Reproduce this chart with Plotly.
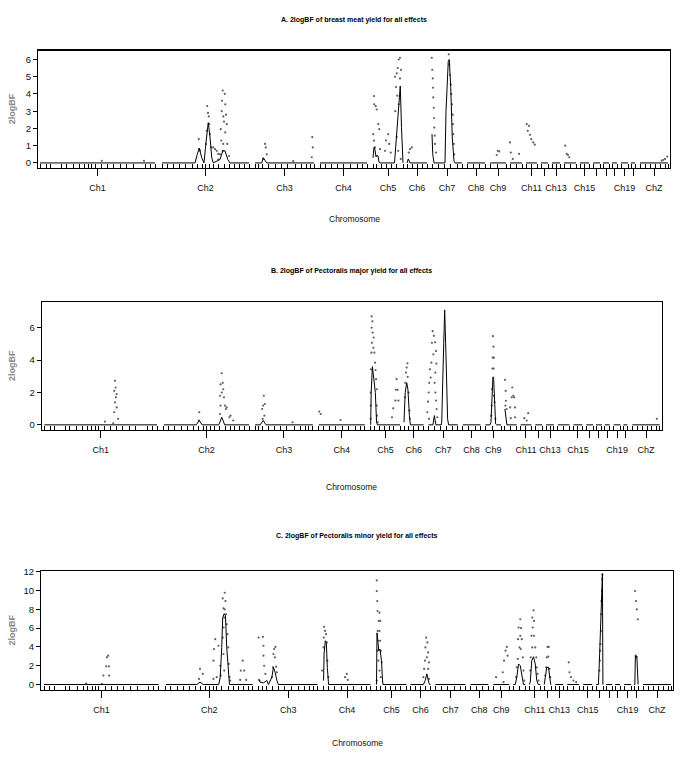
"""
Genome-wide 2logBF profiles (three traits) drawn as stacked panels.
"""

import plotly.graph_objects as go

# chromosome map (cumulative cM along the genome)
CHR_NAMES = ["Ch1", "Ch2", "Ch3", "Ch4", "Ch5", "Ch6", "Ch7", "Ch8", "Ch9", "Ch10", "Ch11",
             "Ch12", "Ch13", "Ch14", "Ch15", "Ch16", "Ch17", "Ch18", "Ch19", "Ch20", "ChZ"]
CHR_LABELED = ["Ch1", "Ch2", "Ch3", "Ch4", "Ch5", "Ch6", "Ch7", "Ch8", "Ch9",
               "Ch11", "Ch13", "Ch15", "Ch19", "ChZ"]
CHR_START = [0, 488, 860, 1120, 1332, 1468, 1568, 1708, 1800, 1880, 1944,
             2004, 2048, 2096, 2160, 2212, 2252, 2288, 2324, 2364, 2400]
CHR_END = [460, 836, 1096, 1308, 1452, 1548, 1688, 1780, 1864, 1928, 1988,
           2032, 2080, 2144, 2196, 2240, 2276, 2308, 2352, 2380, 2512]

# marker positions (rug under the curves)
MARKERS = [0, 24, 43, 87, 104, 133, 157, 176, 193, 207, 220, 247, 269, 293, 320, 347, 373, 420, 440, 460,
           488, 508, 533, 558, 583, 608, 628, 648, 663, 678, 693, 713, 738, 758, 778, 798, 818, 836,
           860, 875, 890, 915, 940, 965, 990, 1020, 1045, 1065, 1080, 1096,
           1120, 1140, 1165, 1190, 1215, 1240, 1270, 1290, 1308,
           1332, 1347, 1367, 1387, 1407, 1427, 1452,
           1468, 1488, 1508, 1528, 1548,
           1568, 1593, 1618, 1643, 1668, 1688,
           1708, 1733, 1758, 1780, 1800, 1830, 1864, 1880, 1904, 1928, 1944, 1966, 1988,
           2004, 2032, 2048, 2064, 2080, 2096, 2120, 2144, 2160, 2178, 2196, 2212, 2240,
           2252, 2276, 2288, 2308, 2324, 2352, 2364, 2380,
           2400, 2420, 2440, 2460, 2480, 2500, 2512]

# ---- A. breast meat yield ----
A_CURVE_X = [620, 629, 637, 647, 656, 664, 673, 680, 687, 693, 720, 731, 740, 751, 760,
             887, 893, 901, 907,
             1332, 1336, 1340, 1344, 1348, 1352, 1356, 1360, 1418, 1424, 1433, 1441, 1446, 1450,
             1468, 1473, 1480,
             1568, 1571, 1576, 1620, 1624, 1633, 1637, 1643, 1649, 1656, 1660]
A_CURVE_Y = [0, 0.5, 0.86, 0.3, 0, 1.2, 2.34, 1.5, 0.3, 0, 0.2, 0.7, 0.7, 0.2, 0,
             0, 0.3, 0.1, 0,
             0.3, 0.9, 0.75, 0.35, 0.45, 0.4, 0.05, 0, 0, 1.1, 3.0, 4.46, 2.05, 0.23,
             0, 0.23, 0,
             1.67, 0.5, 0, 0, 3.0, 5.9, 6.0, 4.36, 1.5, 0.1, 0]
A_DOT_X = [247, 416,
           635, 637, 640, 669, 672, 675, 677, 667, 664, 680, 685, 693, 700, 707, 713,
           731, 739, 728, 741, 727, 733, 744, 723, 736, 747, 725, 741, 749, 733, 731, 720, 756, 713,
           900, 903, 907, 893, 1013, 1089, 1091, 1087,
           1336, 1337, 1343, 1347, 1353, 1333, 1336, 1340, 1357, 1360, 1393, 1397, 1384, 1380, 1403,
           1420, 1427, 1431, 1435, 1440, 1444, 1440, 1424, 1429, 1421, 1435, 1427, 1433, 1443,
           1480, 1487, 1475,
           1567, 1569, 1571, 1572, 1573, 1575, 1576, 1577, 1579, 1580, 1584,
           1635, 1637, 1640, 1643, 1645, 1648, 1651, 1652, 1653, 1655, 1657,
           1827, 1831, 1837, 1880, 1883, 1891, 1916,
           1947, 1956, 1951, 1960, 1965, 1973, 1979,
           2101, 2107, 2112, 2117,
           2487, 2493, 2500, 2509]
A_DOT_Y = [0.12, 0.12,
           1.38, 0.8, 0.7, 3.3, 2.9, 2.7, 2.25, 1.86, 1.1, 1.67, 0.9, 0.9, 0.8, 0.7, 0.52,
           4.2, 4.0, 3.6, 3.4, 3.0, 2.7, 2.8, 1.96, 2.4, 2.25, 1.3, 1.77, 1.1, 1.1, 0.7, 0.5, 0.4, 0.2,
           1.1, 0.9, 0.5, 0.23, 0.1, 1.5, 0.9, 0.33,
           3.88, 3.4, 3.3, 3.1, 2.25, 1.67, 1.29, 0.9, 1.96, 0.8, 1.67, 1.1, 1.3, 0.7, 0.6,
           5.0, 5.2, 5.5, 6.0, 6.1, 5.4, 4.9, 4.4, 3.9, 3.0, 3.4, 1.5, 0.7, 0.23,
           0.8, 0.9, 0.6,
           6.1, 5.4, 4.9, 4.36, 3.8, 3.2, 2.6, 2.05, 1.58, 1.1, 0.6,
           6.3, 5.7, 5.1, 4.55, 4.0, 3.4, 2.8, 2.25, 1.67, 1.1, 0.5,
           0.46, 0.7, 0.67, 1.19, 0.6, 0.23, 0.52,
           2.25, 2.15, 1.86, 1.63, 1.38, 1.19, 1.06,
           1.0, 0.52, 0.46, 0.33,
           0.13, 0.17, 0.23, 0.37]

# ---- B. Pectoralis major yield ----
B_CURVE_X = [620, 632, 644, 712, 724, 736,
             881, 893, 905,
             1332, 1334, 1339, 1345, 1351, 1356, 1360,
             1468, 1473, 1479, 1484, 1490, 1494,
             1586, 1592, 1598, 1620, 1622, 1626, 1630, 1634, 1638, 1642, 1646, 1650,
             1819, 1823, 1827, 1831, 1834, 1838, 1842, 1846,
             1880, 1884, 1888]
B_CURVE_Y = [0, 0.27, 0, 0, 0.47, 0,
             0, 0.27, 0,
             0, 2.0, 3.6, 2.82, 2.0, 0.16, 0,
             0.16, 2.0, 2.6, 2.2, 0.57, 0,
             0, 0.57, 0, 0, 0.16, 2.6, 5.07, 7.1, 5.07, 2.6, 0.37, 0,
             0, 0.16, 1.39, 2.92, 2.82, 0.98, 0.06, 0,
             0.98, 0.57, 0]
B_DOT_X = [288, 291, 295, 285, 292, 288, 285, 295, 301, 247, 281,
           632, 630, 724, 719, 728, 717, 724, 730, 733, 737, 744, 741, 719, 717, 755, 760, 771,
           896, 893, 900, 889, 898, 891, 1013,
           1122, 1128, 1209,
           1336, 1339, 1336, 1340, 1344, 1337, 1343, 1335, 1347, 1350, 1333, 1352, 1354, 1332,
           1357, 1333, 1357, 1358, 1332, 1361,
           1438, 1435, 1442, 1433, 1445, 1424, 1419,
           1482, 1479, 1476, 1483, 1473, 1487, 1472, 1490, 1492,
           1585, 1590, 1595, 1582, 1599, 1588, 1580, 1600, 1574, 1596, 1577, 1571, 1593, 1569,
           1596, 1566, 1599, 1563, 1601, 1570, 1604,
           1831, 1833, 1830, 1835, 1829, 1834, 1833, 1827, 1835, 1826, 1838, 1824, 1841,
           1880, 1883, 1884, 1887, 1882, 1910, 1908, 1914, 1918, 1921, 1901, 1904, 1921,
           1959, 1969, 1975,
           2500]
B_DOT_Y = [2.72, 2.31, 1.9, 2.1, 1.7, 1.39, 0.78, 1.08, 0.37, 0.2, 0.1,
           0.78, 0.27, 3.19, 2.5, 2.6, 1.8, 2.0, 2.2, 1.7, 1.19, 1.08, 0.98, 1.19, 0.67, 0.47, 0.57, 0.27,
           1.8, 1.19, 1.29, 0.98, 0.57, 0.37, 0.16,
           0.82, 0.67, 0.3,
           6.7, 6.4, 6.0, 5.7, 5.4, 5.07, 4.76, 4.46, 4.46, 3.84, 3.43, 3.39, 2.82, 2.0,
           2.2, 1.19, 1.19, 0.57, 0.37, 0.16,
           2.82, 2.17, 2.17, 1.5, 1.5, 1.02, 0.47,
           3.8, 3.54, 3.23, 2.97, 2.6, 2.0, 1.7, 0.88, 0.37,
           5.79, 5.5, 5.1, 5.07, 4.56, 4.36, 3.84, 3.78, 3.43, 3.23, 2.92, 2.6, 2.6, 2.0,
           2.0, 1.43, 1.5, 0.78, 0.98, 0.37, 0.47,
           5.48, 4.83, 4.15, 4.15, 3.48, 3.48, 2.92, 2.2, 1.8, 1.19, 1.39, 0.57, 0.37,
           2.78, 2.1, 1.49, 0.98, 1.19, 2.31, 1.7, 1.8, 1.7, 1.08, 1.08, 0.41, 0.47,
           0.41, 0.27, 0.72,
           0.37]

# ---- C. Pectoralis minor yield ----
C_CURVE_X = [612, 625, 638, 700, 706, 712, 716, 722, 727, 732, 738, 743,
             860, 866, 879, 893, 899, 913, 919, 926, 933, 939,
             1120, 1122, 1127, 1131, 1135, 1140,
             1332, 1334, 1338, 1341, 1346, 1352, 1356, 1358,
             1520, 1527, 1534, 1539, 1544,
             1888, 1894, 1901, 1908, 1914, 1921,
             1944, 1948, 1954, 1961, 1968, 1974, 1980,
             2004, 2008, 2014, 2021, 2025, 2030,
             2221, 2225, 2231, 2235, 2237, 2239,
             2367, 2369, 2372, 2375, 2377]
C_CURVE_Y = [0, 0.25, 0, 0, 0.78, 3.95, 7.13, 7.55, 7.3, 3.95, 1.13, 0,
             0.6, 0.25, 0.18, 0.42, 0, 0.78, 1.83, 1.3, 0.42, 0,
             0.42, 3.25, 4.66, 4.48, 1.83, 0,
             0, 5.5, 4.5, 3.6, 3.77, 2.54, 0.5, 0,
             0, 0.42, 1.13, 0.5, 0,
             0, 0.78, 2.19, 2.0, 0.95, 0,
             0, 0.25, 2.54, 2.96, 2.19, 0.42, 0,
             0, 0.78, 1.83, 1.83, 0.78, 0,
             0, 2.54, 6.77, 11.7, 11.8, 0,
             0, 3.07, 2.9, 3.0, 0]
C_DOT_X = [232, 238, 249, 260, 252, 257, 261, 169,
           625, 636, 621, 686, 681, 679, 699, 706, 692, 679, 708,
           724, 716, 727, 719, 724, 730, 722, 732, 719, 735, 716, 738, 719, 740, 722, 743, 746,
           796, 788, 802, 786, 810,
           860, 877, 879, 879, 882, 887, 863, 922, 927, 919, 925, 930, 917, 933, 913,
           1122, 1126, 1130, 1121, 1133, 1120, 1135, 1114, 1139, 1206, 1213, 1217,
           1333, 1333, 1335, 1336, 1344, 1341, 1347, 1337, 1344, 1340, 1347, 1336, 1349, 1340,
           1353, 1344, 1349, 1333,
           1531, 1536, 1528, 1539, 1534, 1526, 1542, 1523, 1539, 1520, 1542,
           1811, 1838, 1843, 1849, 1854, 1857, 1841,
           1908, 1901, 1911, 1908, 1899, 1914, 1905, 1910, 1898, 1918, 1894, 1921, 1891, 1924,
           1961, 1956, 1963, 1958, 1953, 1963, 1956, 1968, 1950, 1972, 1974, 1948, 1977, 1981,
           2017, 2022, 2020, 2014, 2012, 2025, 2008, 2028,
           2102, 2105, 2111, 2121, 2132,
           2237, 2236, 2235, 2233, 2232, 2231, 2229, 2228, 2227, 2225,
           2368, 2372, 2375, 2379, 2371, 2373]
C_DOT_Y = [0.07, 0.95, 1.94, 1.94, 2.9, 3.07, 0.95, 0.1,
           1.66, 1.13, 0.6, 4.83, 3.77, 2.54, 4.13, 2.0, 0.78, 0.6, 0.95,
           9.77, 9.17, 8.89, 8.11, 8.0, 7.48, 7.13, 6.42, 6.07, 5.36, 5.0, 3.95, 3.25, 2.19, 1.48, 0.78, 0.42,
           2.54, 1.48, 1.48, 0.49, 0.49,
           5.0, 5.08, 4.13, 3.07, 2.0, 1.13, 0.42, 3.77, 4.0, 3.25, 2.9, 1.9, 1.83, 1.3, 0.78,
           6.14, 5.71, 5.36, 5.0, 4.48, 3.95, 2.54, 1.48, 0.78, 0.78, 1.13, 0.49,
           11.08, 9.95, 8.89, 7.83, 7.65, 6.77, 6.77, 5.71, 5.71, 4.66, 4.66, 3.6, 3.6, 2.54,
           2.36, 1.48, 0.78, 0.42,
           5.0, 4.48, 3.95, 3.42, 2.9, 2.54, 2.36, 1.66, 1.66, 0.78, 0.6,
           0.78, 1.3, 2.54, 3.6, 4.0, 3.07, 0.25,
           6.95, 6.07, 6.0, 5.19, 4.83, 4.83, 3.95, 3.77, 2.72, 2.9, 1.83, 1.48, 0.78, 0.42,
           7.9, 7.13, 6.77, 6.07, 5.19, 5.19, 3.95, 3.95, 2.9, 2.9, 1.83, 1.48, 1.13, 0.42,
           4.0, 4.0, 2.96, 2.9, 1.83, 1.66, 0.95, 0.78,
           2.36, 1.3, 0.78, 0.42, 0.25,
           11.7, 11.2, 9.95, 8.89, 7.48, 5.71, 4.3, 3.6, 2.54, 1.48,
           9.95, 8.89, 8.0, 6.95, 3.07, 2.9]

TITLES = ["A. 2logBF of breast meat yield for all effects",
          "B. 2logBF of Pectoralis major yield for all effects",
          "C. 2logBF of Pectoralis minor yield for all effects"]

W, H = 685, 762
FONT = "Liberation Sans Narrow, Arial Narrow, Liberation Sans, Arial"


def chromosome_lines(curve_x, curve_y):
    """One polyline per chromosome: flat at 0 except where the curve has points."""
    xs, ys = [], []
    for s, e in zip(CHR_START, CHR_END):
        pts = sorted((x, y) for x, y in zip(curve_x, curve_y) if s <= x <= e)
        if not pts or pts[0][0] > s:
            pts = [(s, 0)] + pts
        if pts[-1][0] < e:
            pts = pts + [(e, 0)]
        xs += [p[0] for p in pts] + [None]
        ys += [p[1] for p in pts] + [None]
    return xs, ys


# pixel geometry of each panel box: (left, right, top, bottom), x range, y range, y ticks, label rows
PANELS = [
    dict(box=(38, 670, 46, 164), xr=[-8, 2520], yr=[-0.29, 6.51], yt=[0, 1, 2, 3, 4, 5, 6],
         title_y=15, xlab_y=215,
         curve=(A_CURVE_X, A_CURVE_Y), dots=(A_DOT_X, A_DOT_Y)),
    dict(box=(41.7, 661.7, 299, 428), xr=[-11, 2520], yr=[-0.33, 7.59], yt=[0, 2, 4, 6],
         title_y=268, xlab_y=485,
         curve=(B_CURVE_X, B_CURVE_Y), dots=(B_DOT_X, B_DOT_Y)),
    dict(box=(41, 673.3, 570, 689.3), xr=[-12, 2521], yr=[-0.56, 12.06], yt=[0, 2, 4, 6, 8, 10, 12],
         title_y=535, xlab_y=743,
         curve=(C_CURVE_X, C_CURVE_Y), dots=(C_DOT_X, C_DOT_Y)),
]

centers = [(s + e) / 2 for s, e in zip(CHR_START, CHR_END)]
tick_text = [n if n in CHR_LABELED else "" for n in CHR_NAMES]

fig = go.Figure()
annotations = []
layout_axes = {}

for i, p in enumerate(PANELS):
    k = "" if i == 0 else str(i + 1)
    left, right, top, bottom = p["box"]
    lx, ly = chromosome_lines(*p["curve"])

    fig.add_trace(go.Scatter(x=p["dots"][0], y=p["dots"][1], mode="markers",
                             marker=dict(size=2.2, color="#606060"),
                             xaxis="x" + k, yaxis="y" + k, showlegend=False))
    fig.add_trace(go.Scatter(x=lx, y=ly, mode="lines",
                             line=dict(color="black", width=1),
                             xaxis="x" + k, yaxis="y" + k, showlegend=False))

    layout_axes["xaxis" + k] = dict(
        domain=[left / W, right / W], range=p["xr"], anchor="y" + k,
        showline=True, linecolor="black", linewidth=1.2, mirror=True,
        showgrid=False, zeroline=False,
        tickmode="array", tickvals=centers, ticktext=tick_text, tickangle=0,
        ticks="outside", ticklen=7, tickwidth=1, tickcolor="black",
        ticklabelstandoff=4,
        tickfont=dict(family=FONT, size=9, color="#111111"),
        minor=dict(tickmode="array", tickvals=MARKERS, ticks="inside",
                   ticklen=4, tickwidth=1, tickcolor="black", showgrid=False),
    )
    layout_axes["yaxis" + k] = dict(
        domain=[1 - bottom / H, 1 - top / H], range=p["yr"], anchor="x" + k,
        showline=True, linecolor="black", linewidth=1, mirror=True,
        showgrid=False, zeroline=False,
        tickmode="array", tickvals=p["yt"],
        ticks="outside", ticklen=4, tickwidth=1, tickcolor="black",
        tickfont=dict(family=FONT, size=9.5, color="#111111"),
    )

    annotations.append(dict(text="<b>" + TITLES[i] + "</b>", x=(left + right) / 2 / W,
                            y=1 - p["title_y"] / H, xref="paper", yref="paper",
                            xanchor="center", yanchor="middle", showarrow=False,
                            font=dict(family=FONT, size=7, color="black")))
    annotations.append(dict(text="Chromosome", x=(left + right) / 2 / W,
                            y=1 - p["xlab_y"] / H, xref="paper", yref="paper",
                            xanchor="center", yanchor="middle", showarrow=False,
                            font=dict(family=FONT, size=8.5, color="#111111")))
    annotations.append(dict(text="<b>2logBF</b>", x=12 / W, y=1 - (top + bottom) / 2 / H,
                            xref="paper", yref="paper", textangle=-90,
                            xanchor="center", yanchor="middle", showarrow=False,
                            font=dict(family="Liberation Sans, Arial", size=9, color="#8a8a8a")))

fig.update_layout(
    width=W, height=H, autosize=False,
    margin=dict(l=0, r=0, t=0, b=0),
    paper_bgcolor="white", plot_bgcolor="white",
    annotations=annotations,
    hovermode=False,
    **layout_axes,
)

fig.write_html("out.html", config={"displayModeBar": False, "staticPlot": True},
               post_script="document.body.style.margin = '0px';")
